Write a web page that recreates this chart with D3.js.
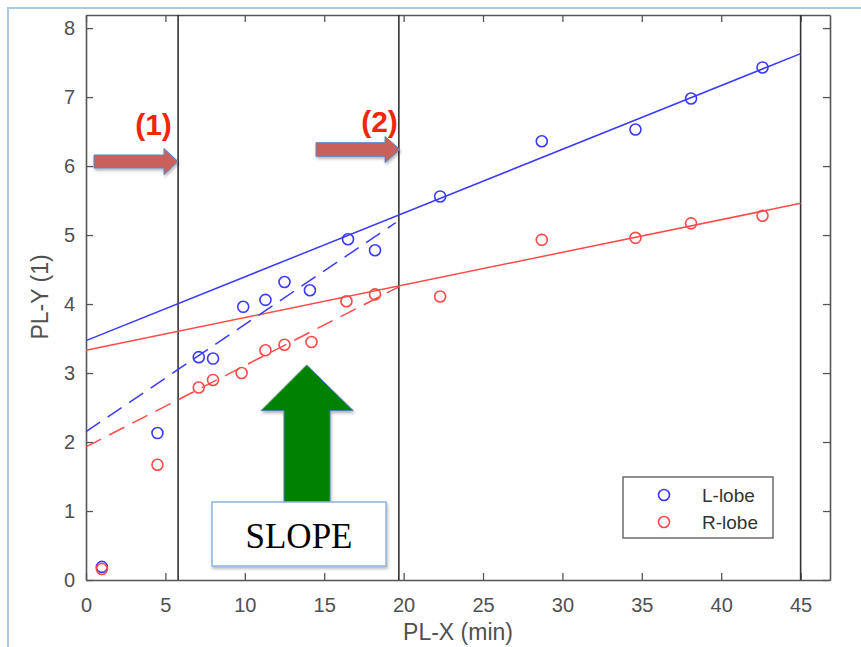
<!DOCTYPE html>
<html><head><meta charset="utf-8">
<script src="https://cdn.jsdelivr.net/npm/d3@7"></script>
<style>body{margin:0;background:#fff}svg{display:block}</style>
</head><body><svg id="c" width="861" height="647"></svg>
<script>
// ---- data ----
const xL = [1.0, 4.5, 7.1, 8.0, 9.9, 11.3, 12.5, 14.1, 16.5, 18.2, 22.3, 28.7, 34.6, 38.1, 42.6];
const yL = [0.19, 2.13, 3.23, 3.21, 3.96, 4.06, 4.32, 4.20, 4.94, 4.78, 5.56, 6.36, 6.53, 6.98, 7.43];
const xR = [1.0, 4.5, 7.1, 8.0, 9.8, 11.3, 12.5, 14.2, 16.4, 18.2, 22.3, 28.7, 34.6, 38.1, 42.6];
const yR = [0.16, 1.67, 2.79, 2.90, 3.00, 3.33, 3.41, 3.45, 4.04, 4.14, 4.11, 4.93, 4.96, 5.17, 5.28];
const fitLSolidX = [0, 45], fitLSolidY = [3.47, 7.63];
const fitRSolidX = [0, 45], fitRSolidY = [3.33, 5.46];
const fitLDashX = [0, 19.5], fitLDashY = [2.15, 5.18];
const fitRDashX = [0, 19.7], fitRDashY = [1.93, 4.25];
const markerX = [5.8, 19.7, 45];
const xTicks = [0, 5, 10, 15, 20, 25, 30, 35, 40, 45];
const yTicks = [0, 1, 2, 3, 4, 5, 6, 7, 8];
const seriesNames = ["L-lobe", "R-lobe"];
const xLabel = "PL-X (min)", yLabel = "PL-Y (1)";
const annotLabels = ["(1)", "(2)"];
const slopeLabel = "SLOPE";

const svg = d3.select("#c");
const L = 86, R = 830, T = 15, B = 580;
const x = d3.scaleLinear().domain([0, 46.85]).range([L, R]);
const y = d3.scaleLinear().domain([0, 8.19]).range([B, T]);
const blue = "#3a3aff", red = "#ff4a4a", axisCol = "#555";
const font = "'Liberation Sans', Arial, Helvetica, sans-serif";

const defs = svg.append("defs");
const f = defs.append("filter").attr("id", "sh").attr("x", "-20%").attr("y", "-20%").attr("width", "150%").attr("height", "150%");
f.append("feDropShadow").attr("dx", 1).attr("dy", 2).attr("stdDeviation", 1.5).attr("flood-color", "#000").attr("flood-opacity", 0.3);

svg.append("rect").attr("width", 861).attr("height", 647).attr("fill", "#fff");
// outer light-blue frame
svg.append("rect").attr("x", 8).attr("y", 8).attr("width", 900).attr("height", 700)
  .attr("fill", "none").attr("stroke", "#a9c8e8").attr("stroke-width", 2);

// axes
function styleAxis(g) {
  g.select(".domain").attr("stroke", axisCol).attr("stroke-width", 1.6);
  g.selectAll(".tick line").attr("stroke", axisCol).attr("stroke-width", 1.3);
  g.selectAll(".tick text").attr("fill", "#505050").attr("font-family", font).attr("font-size", 20);
}
svg.append("g").attr("transform", `translate(0,${B})`)
  .call(d3.axisBottom(x).tickValues(xTicks).tickSizeInner(-7).tickSizeOuter(0).tickPadding(18))
  .call(styleAxis);
svg.append("g").attr("transform", `translate(0,${T})`)
  .call(d3.axisTop(x).tickValues(xTicks).tickSizeInner(-7).tickSizeOuter(0).tickFormat(""))
  .call(styleAxis);
svg.append("g").attr("transform", `translate(${L},0)`)
  .call(d3.axisLeft(y).tickValues(yTicks).tickSizeInner(-7).tickSizeOuter(0).tickPadding(11))
  .call(styleAxis);
svg.append("g").attr("transform", `translate(${R},0)`)
  .call(d3.axisRight(y).tickValues(yTicks).tickSizeInner(-7).tickSizeOuter(0).tickFormat(""))
  .call(styleAxis);

// axis labels
svg.append("text").attr("x", 458).attr("y", 640).attr("text-anchor", "middle")
  .attr("font-family", font).attr("font-size", 23).attr("fill", "#505050").text(xLabel);
svg.append("text").attr("transform", "translate(48,297) rotate(-90)").attr("text-anchor", "middle")
  .attr("font-family", font).attr("font-size", 23).attr("fill", "#505050").text(yLabel);

// vertical marker lines
svg.selectAll("line.mk").data(markerX).enter().append("line")
  .attr("x1", d => x(d)).attr("x2", d => x(d)).attr("y1", T).attr("y2", B)
  .attr("stroke", "#333").attr("stroke-width", 1.6);

// fit lines
const line = d3.line().x(d => x(d[0])).y(d => y(d[1]));
function fit(xs, ys, col, dash) {
  svg.append("path").datum(xs.map((v, i) => [v, ys[i]])).attr("d", line)
    .attr("fill", "none").attr("stroke", col).attr("stroke-width", 1.5)
    .attr("stroke-dasharray", dash ? "17,9" : null);
}
fit(fitLSolidX, fitLSolidY, blue, false);
fit(fitRSolidX, fitRSolidY, red, false);
fit(fitLDashX, fitLDashY, blue, true);
fit(fitRDashX, fitRDashY, red, true);

// points
function pts(xs, ys, col) {
  svg.append("g").selectAll("circle").data(xs.map((v, i) => [v, ys[i]])).enter().append("circle")
    .attr("cx", d => x(d[0])).attr("cy", d => y(d[1])).attr("r", 5.5)
    .attr("fill", "none").attr("stroke", col).attr("stroke-width", 1.6);
}
pts(xL, yL, blue);
pts(xR, yR, red);

// legend
const lg = svg.append("g");
lg.append("rect").attr("x", 623).attr("y", 477).attr("width", 150).attr("height", 61)
  .attr("fill", "#fff").attr("stroke", "#555").attr("stroke-width", 1.3);
[[blue, seriesNames[0], 495], [red, seriesNames[1], 522]].forEach(([c, t, yy]) => {
  lg.append("circle").attr("cx", 664).attr("cy", yy).attr("r", 5.5).attr("fill", "none").attr("stroke", c).attr("stroke-width", 1.6);
  lg.append("text").attr("x", 702).attr("y", yy + 7).attr("font-family", font).attr("font-size", 19)
    .attr("fill", "#333").text(t);
});

// horizontal red arrows
function hArrow(x0, x1, xh, yc, sh, hh) {
  const p = [[x0, yc - sh], [xh, yc - sh], [xh, yc - hh], [x1, yc], [xh, yc + hh], [xh, yc + sh], [x0, yc + sh]];
  svg.append("path").attr("d", "M" + p.join("L") + "Z").attr("fill", "#c9605a")
    .attr("stroke", "#5b86c2").attr("stroke-width", 1).attr("filter", "url(#sh)");
}
hArrow(94, 178, 164, 161.5, 6.5, 13);
hArrow(316, 400, 385, 149.5, 6.8, 13);

svg.append("text").attr("x", 153.5).attr("y", 135).attr("text-anchor", "middle")
  .attr("font-family", font).attr("font-weight", "bold").attr("font-size", 30).attr("fill", "#f5250a").text(annotLabels[0]);
svg.append("text").attr("x", 379.5).attr("y", 132).attr("text-anchor", "middle")
  .attr("font-family", font).attr("font-weight", "bold").attr("font-size", 30).attr("fill", "#f5250a").text(annotLabels[1]);

// green up arrow
{
  const p = [[306.7, 365], [353.3, 410.7], [330, 410.7], [330, 505], [284, 505], [284, 410.7], [261, 410.7]];
  svg.append("path").attr("d", "M" + p.join("L") + "Z").attr("fill", "#008200")
    .attr("stroke", "#4f7fbf").attr("stroke-width", 1).attr("filter", "url(#sh)");
}
// SLOPE box
svg.append("rect").attr("x", 212).attr("y", 502).attr("width", 174).attr("height", 64)
  .attr("fill", "#fff").attr("stroke", "#8fb3de").attr("stroke-width", 1.5).attr("filter", "url(#sh)");
svg.append("text").attr("x", 299).attr("y", 548).attr("text-anchor", "middle")
  .attr("font-family", "'Liberation Serif', 'Times New Roman', serif").attr("font-size", 35).attr("fill", "#000").text(slopeLabel);
</script></body></html>
